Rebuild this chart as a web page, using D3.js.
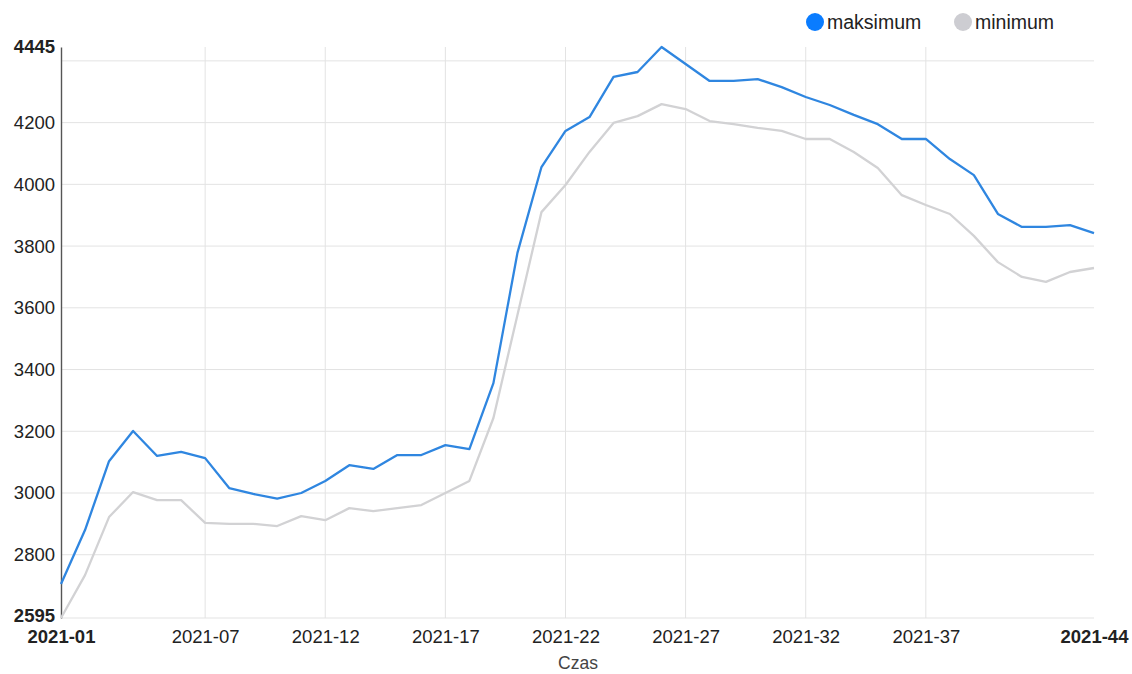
<!DOCTYPE html>
<html>
<head>
<meta charset="utf-8">
<script src="https://cdn.jsdelivr.net/npm/d3@7"></script>
<style>
  html, body { margin: 0; padding: 0; background: #fff; }
  svg { display: block; font-family: "Liberation Sans", Arial, sans-serif; }
</style>
</head>
<body>
<svg id="chart" width="1132" height="674"></svg>
<script>
const weeks = d3.range(1, 45).map(w => "2021-" + String(w).padStart(2, "0"));
const maksimum = [2705, 2880, 3103, 3201, 3120, 3133, 3113, 3016, 2997, 2982, 3000, 3039,
  3090, 3078, 3123, 3123, 3155, 3142, 3356, 3778, 4056, 4173, 4218, 4348, 4364, 4445,
  4390, 4335, 4335, 4341, 4315, 4283, 4257, 4225, 4195, 4147, 4147, 4082, 4030, 3904,
  3862, 3862, 3868, 3842];
const minimum = [2595, 2734, 2922, 3003, 2977, 2977, 2903, 2900, 2900, 2893, 2925, 2912,
  2951, 2941, 2951, 2961, 3000, 3039, 3243, 3577, 3910, 3998, 4105, 4199, 4221, 4260,
  4244, 4205, 4195, 4183, 4173, 4147, 4147, 4105, 4053, 3965, 3933, 3904, 3833, 3748,
  3700, 3684, 3716, 3729];
const seriesNames = ["maksimum", "minimum"];
const seriesColors = ["#2f86e0", "#d2d2d4"];
const legendColors = ["#0a7cff", "#cdcdd2"];
const xTickLabels = ["2021-01", "2021-07", "2021-12", "2021-17", "2021-22", "2021-27", "2021-32", "2021-37", "2021-44"];
const yTickValues = [2595, 2800, 3000, 3200, 3400, 3600, 3800, 4000, 4200, 4445];
const yGridValues = [2595, 2800, 3000, 3200, 3400, 3600, 3800, 4000, 4200, 4400];
const xTitle = "Czas";

const svg = d3.select("#chart");
const margin = { left: 61, right: 38, top: 47, bottom: 56 };
const W = 1132, H = 674;
const FS = 18.5;

const x = d3.scalePoint().domain(weeks).range([margin.left, W - margin.right]);
const y = d3.scaleLinear().domain([2595, 4445]).range([H - margin.bottom, margin.top]);

const grid = svg.append("g");
grid.selectAll("line.h").data(yGridValues).join("line")
  .attr("x1", margin.left).attr("x2", W - margin.right)
  .attr("y1", d => y(d)).attr("y2", d => y(d))
  .attr("stroke", "#e3e3e3").attr("stroke-width", 1);
grid.selectAll("line.v").data(xTickLabels.slice(1, -1)).join("line")
  .attr("x1", d => x(d)).attr("x2", d => x(d))
  .attr("y1", margin.top).attr("y2", H - margin.bottom)
  .attr("stroke", "#e3e3e3").attr("stroke-width", 1);

// Y axis
const yAxis = d3.axisLeft(y).tickValues(yTickValues).tickSize(0).tickPadding(6).tickFormat(d3.format("d"));
const gy = svg.append("g").attr("transform", `translate(${margin.left},0)`).call(yAxis);
gy.select(".domain").attr("stroke", "#555").attr("stroke-width", 1.4);
gy.selectAll("text").attr("font-size", FS).attr("fill", "#222")
  .attr("font-family", "'Liberation Sans', Arial, sans-serif")
  .attr("font-weight", d => (d === 2595 || d === 4445) ? "bold" : "normal")
  .attr("dy", d => d === 2595 ? "0.2em" : "0.32em");

// X axis
const xAxis = d3.axisBottom(x).tickValues(xTickLabels).tickSize(0).tickPadding(12);
const gx = svg.append("g").attr("transform", `translate(0,${H - margin.bottom})`).call(xAxis);
gx.select(".domain").remove();
gx.selectAll("text").attr("font-size", FS).attr("fill", "#222")
  .attr("font-family", "'Liberation Sans', Arial, sans-serif")
  .attr("font-weight", (d, i) => (i === 0 || i === xTickLabels.length - 1) ? "bold" : "normal");

svg.append("text").attr("x", 578).attr("y", 669)
  .attr("text-anchor", "middle").attr("font-size", 17.5).attr("fill", "#444").text(xTitle);

// lines
const line = d3.line().x((d, i) => x(weeks[i])).y(d => y(d));
[[minimum, 1], [maksimum, 0]].forEach(([s, idx]) => {
  svg.append("path").datum(s).attr("d", line)
    .attr("fill", "none").attr("stroke", seriesColors[idx]).attr("stroke-width", 2.3)
    .attr("stroke-linejoin", "round");
});

// legend
const legendX = [815, 963];
seriesNames.forEach((n, i) => {
  svg.append("circle").attr("cx", legendX[i]).attr("cy", 22).attr("r", 9).attr("fill", legendColors[i]);
  svg.append("text").attr("x", legendX[i] + 12).attr("y", 29).attr("font-size", 19.5).attr("fill", "#222").text(n);
});
</script>
</body>
</html>
